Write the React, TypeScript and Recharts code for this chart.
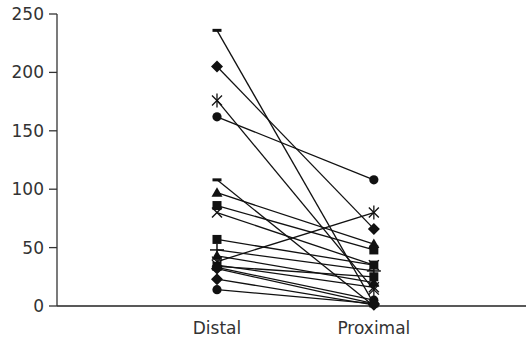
import { LineChart, Line, XAxis, YAxis } from 'recharts';

const categories = ['Distal', 'Proximal'];
const yTicks = [0, 50, 100, 150, 200, 250];

// one entry per subject: distal value, proximal value, marker shape
const distal = [236, 205, 176, 162, 108, 97, 86, 80, 57, 48, 43, 38, 34, 33, 35, 32, 23, 14];
const proximal = [2, 66, 14, 108, 0, 53, 48, 35, 35, 30, 20, 80, 25, 5, 16, 2, 1, 2];
const markers = [
  'dash', 'diamond', 'asterisk', 'circle', 'dash', 'triangle', 'square', 'x', 'square',
  'plus', 'triangle', 'asterisk', 'square', 'circle', 'x', 'diamond', 'diamond', 'circle',
];

const rows = categories.map((name, i) => {
  const row: { [key: string]: number | string } = { name, x: i + 1 };
  distal.forEach((d, s) => {
    row['s' + s] = i === 0 ? d : proximal[s];
  });
  return row;
});

const INK = '#111';

function Marker({ shape, cx, cy }: { shape: string; cx: number; cy: number }) {
  if (cx == null || cy == null) return <g />;
  switch (shape) {
    case 'circle':
      return <circle cx={cx} cy={cy} r={4.6} fill={INK} />;
    case 'square':
      return <rect x={cx - 4.5} y={cy - 4.5} width={9} height={9} fill={INK} />;
    case 'diamond':
      return <path d={`M${cx} ${cy - 6}L${cx + 6} ${cy}L${cx} ${cy + 6}L${cx - 6} ${cy}Z`} fill={INK} />;
    case 'triangle':
      return <path d={`M${cx} ${cy - 5.5}L${cx + 5.5} ${cy + 4}L${cx - 5.5} ${cy + 4}Z`} fill={INK} />;
    case 'dash':
      return <rect x={cx - 4.5} y={cy - 1.5} width={9} height={3} fill={INK} />;
    case 'plus':
      return (
        <g stroke={INK} strokeWidth={1.5}>
          <line x1={cx - 7} y1={cy} x2={cx + 7} y2={cy} />
          <line x1={cx} y1={cy - 6} x2={cx} y2={cy + 6} />
        </g>
      );
    case 'x':
      return (
        <g stroke={INK} strokeWidth={1.4}>
          <line x1={cx - 5} y1={cy - 5} x2={cx + 5} y2={cy + 5} />
          <line x1={cx - 5} y1={cy + 5} x2={cx + 5} y2={cy - 5} />
        </g>
      );
    default:
      return (
        <g stroke={INK} strokeWidth={1.3}>
          <line x1={cx - 5} y1={cy - 5} x2={cx + 5} y2={cy + 5} />
          <line x1={cx - 5} y1={cy + 5} x2={cx + 5} y2={cy - 5} />
          <line x1={cx} y1={cy - 7} x2={cx} y2={cy + 7} />
        </g>
      );
  }
}

const font = { fontFamily: 'DejaVu Sans', fontSize: 17, fill: '#333' };

export default function App() {
  return (
    <div style={{ position: 'absolute', left: 0, top: 0, background: '#fff' }}>
      <LineChart
        width={526}
        height={342}
        data={rows}
        margin={{ top: 14, right: 0, left: 0, bottom: 0 }}
      >
        <XAxis
          dataKey="x"
          type="number"
          domain={[-0.02, 2.97]}
          allowDataOverflow
          ticks={[1, 2]}
          tickFormatter={(v: number) => categories[v - 1]}
          tickLine={false}
          tickSize={0}
          tickMargin={16}
          height={36}
          tick={font}
          axisLine={{ stroke: '#222', strokeWidth: 1.3 }}
        />
        <YAxis
          domain={[0, 250]}
          ticks={yTicks}
          width={57}
          tickSize={8}
          tickMargin={5}
          tick={font}
          tickLine={{ stroke: '#333', strokeWidth: 1.3 }}
          axisLine={{ stroke: '#333', strokeWidth: 1.3 }}
        />
        {markers.map((shape, s) => (
          <Line
            key={s}
            dataKey={'s' + s}
            stroke={INK}
            strokeWidth={1.3}
            isAnimationActive={false}
            dot={(p: any) => <Marker key={`${s}-${p.index}`} shape={shape} cx={p.cx} cy={p.cy} />}
            activeDot={false}
          />
        ))}
      </LineChart>
    </div>
  );
}
